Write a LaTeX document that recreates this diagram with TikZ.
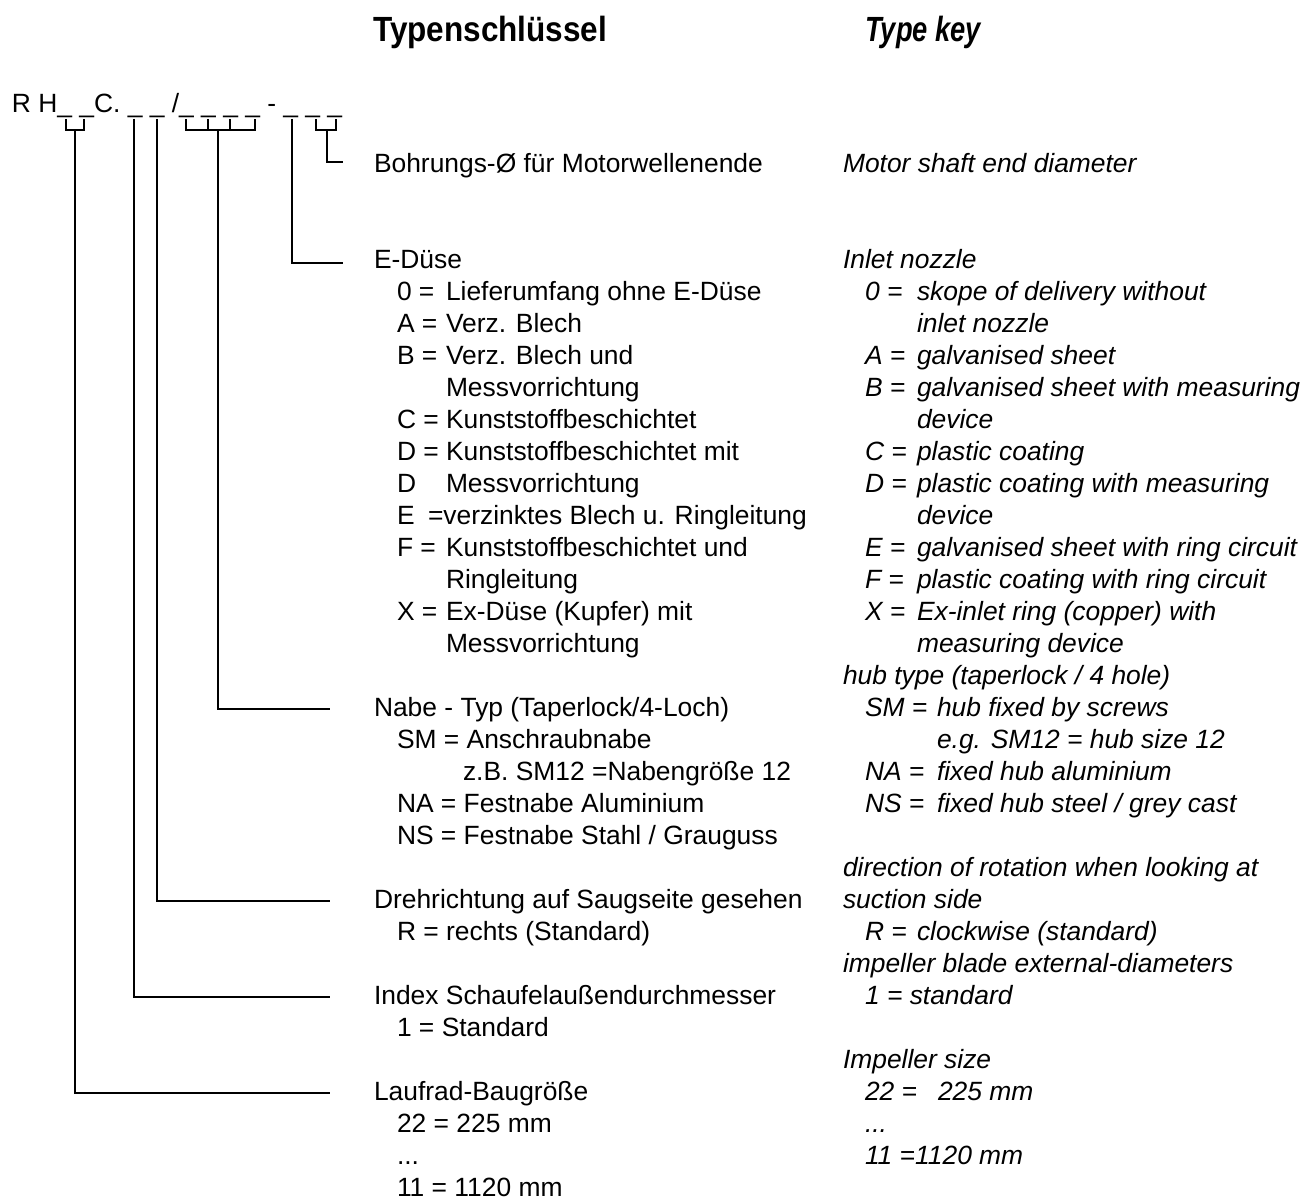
\documentclass[tikz,border=0pt]{standalone}
\usepackage{fontspec}
\setmainfont{Liberation Sans}
\newfontfamily\titlefnt[FakeStretch=0.9]{Liberation Sans}
\newfontfamily\titlefntit[FakeStretch=0.78]{Liberation Sans}
\newcommand\mybody{\fontsize{26.4}{32}\selectfont}
\begin{document}
\begin{tikzpicture}[x=1pt,y=-1pt,
  txt/.style={anchor=base west, inner sep=0pt, outer sep=0pt, font=\mybody},
  etxt/.style={txt, font=\mybody\itshape},
  ttl/.style={anchor=base west, inner sep=0pt, font=\titlefnt\fontsize{35}{38}\selectfont\bfseries},
  conn/.style={line width=1.3pt, black}]
\useasboundingbox (0,0) rectangle (1305,1201);
% titles
\node[ttl] (tde) at (373,42) {Typenschlüssel};
\node[ttl, font=\titlefntit\fontsize{35}{38}\selectfont\bfseries\itshape] (ten) at (865,42) {Type key};
% type code
\node[txt] (code) at (12,113) {R H\_ \_C. \_ \_ /\_ \_ \_ \_ - \_ \_ \_};
% German column
\node[txt] (g1) at (374,172) {Bohrungs-Ø für Motorwellenende};
\node[txt] (g2) at (374,268) {E-Düse};
\node[txt] (g3a) at (397,300) {0 =};  \node[txt] (g3b) at (446,300) {Lieferumfang ohne E-Düse};
\node[txt] (g4a) at (397,332) {A =};  \node[txt] (g4b) at (446,332) {Verz. Blech};
\node[txt] (g5a) at (397,364) {B =};  \node[txt] (g5b) at (446,364) {Verz. Blech und};
\node[txt] (g6) at (446,396) {Messvorrichtung};
\node[txt] (g7a) at (397,428) {C =};  \node[txt] (g7b) at (446,428) {Kunststoffbeschichtet};
\node[txt] (g8a) at (397,460) {D =};  \node[txt] (g8b) at (446,460) {Kunststoffbeschichtet mit};
\node[txt] (g9a) at (397,492) {D};    \node[txt] (g9b) at (446,492) {Messvorrichtung};
\node[txt] (g10a) at (397,524) {E};   \node[txt] (g10b) at (428,524) {=verzinktes Blech u. Ringleitung};
\node[txt] (g11a) at (397,556) {F =}; \node[txt] (g11b) at (446,556) {Kunststoffbeschichtet und};
\node[txt] (g12) at (446,588) {Ringleitung};
\node[txt] (g13a) at (397,620) {X =}; \node[txt] (g13b) at (446,620) {Ex-Düse (Kupfer) mit};
\node[txt] (g14) at (446,652) {Messvorrichtung};
\node[txt] (g15) at (374,716) {Nabe - Typ (Taperlock/4-Loch)};
\node[txt] (g16) at (397,748) {SM = Anschraubnabe};
\node[txt] (g17) at (463,780) {z.B. SM12 =Nabengröße 12};
\node[txt] (g18) at (397,812) {NA = Festnabe Aluminium};
\node[txt] (g19) at (397,844) {NS = Festnabe Stahl / Grauguss};
\node[txt] (g20) at (374,908) {Drehrichtung auf Saugseite gesehen};
\node[txt] (g21) at (397,940) {R = rechts (Standard)};
\node[txt] (g22) at (374,1004) {Index Schaufelaußendurchmesser};
\node[txt] (g23) at (397,1036) {1 = Standard};
\node[txt] (g24) at (374,1100) {Laufrad-Baugröße};
\node[txt] (g25) at (397,1132) {22 = 225 mm};
\node[txt] (g26) at (397,1164) {...};
\node[txt] (g27) at (397,1196) {11 = 1120 mm};
% English column
\node[etxt] (e1) at (843,172) {Motor shaft end diameter};
\node[etxt] (e2) at (843,268) {Inlet nozzle};
\node[etxt] (e3a) at (865,300) {0 =};  \node[etxt] (e3b) at (917,300) {skope of delivery without};
\node[etxt] (e4) at (917,332) {inlet nozzle};
\node[etxt] (e5a) at (865,364) {A =};  \node[etxt] (e5b) at (917,364) {galvanised sheet};
\node[etxt] (e6a) at (865,396) {B =};  \node[etxt] (e6b) at (917,396) {galvanised sheet with measuring};
\node[etxt] (e7) at (917,428) {device};
\node[etxt] (e8a) at (865,460) {C =};  \node[etxt] (e8b) at (917,460) {plastic coating};
\node[etxt] (e9a) at (865,492) {D =};  \node[etxt] (e9b) at (917,492) {plastic coating with measuring};
\node[etxt] (e10) at (917,524) {device};
\node[etxt] (e11a) at (865,556) {E =}; \node[etxt] (e11b) at (917,556) {galvanised sheet with ring circuit};
\node[etxt] (e12a) at (865,588) {F =}; \node[etxt] (e12b) at (917,588) {plastic coating with ring circuit};
\node[etxt] (e13a) at (865,620) {X =}; \node[etxt] (e13b) at (917,620) {Ex-inlet ring (copper) with};
\node[etxt] (e14) at (917,652) {measuring device};
\node[etxt] (e15) at (843,684) {hub type (taperlock / 4 hole)};
\node[etxt] (e16a) at (865,716) {SM =}; \node[etxt] (e16b) at (937,716) {hub fixed by screws};
\node[etxt] (e17) at (937,748) {e.g. SM12 = hub size 12};
\node[etxt] (e18a) at (865,780) {NA =}; \node[etxt] (e18b) at (937,780) {fixed hub aluminium};
\node[etxt] (e19a) at (865,812) {NS =}; \node[etxt] (e19b) at (937,812) {fixed hub steel / grey cast};
\node[etxt] (e20) at (843,876) {direction of rotation when looking at};
\node[etxt] (e21) at (843,908) {suction side};
\node[etxt] (e22a) at (865,940) {R =}; \node[etxt] (e22b) at (917,940) {clockwise (standard)};
\node[etxt] (e23) at (843,972) {impeller blade external-diameters};
\node[etxt] (e24) at (865,1004) {1 = standard};
\node[etxt] (e25) at (843,1068) {Impeller size};
\node[etxt] (e26a) at (865,1100) {22 =}; \node[etxt] (e26b) at (938,1100) {225 mm};
\node[etxt] (e27) at (865,1132) {...};
\node[etxt] (e28) at (865,1164) {11 =1120 mm};
% connector coordinates
\coordinate (a1) at (66,119);  \coordinate (a2) at (84,119);  \coordinate (as) at (75,130);
\coordinate (aend) at (330,1093);
\coordinate (c3) at (134,119); \coordinate (c3end) at (330,997);
\coordinate (c4) at (157,119); \coordinate (c4end) at (330,901);
\coordinate (b1) at (186,119); \coordinate (b2) at (208,119); \coordinate (b3) at (230,119); \coordinate (b4) at (255,119);
\coordinate (bs) at (218,130); \coordinate (bend) at (330,709);
\coordinate (c9) at (292,119); \coordinate (c9end) at (343,263);
\coordinate (d1) at (316,119); \coordinate (d2) at (336,119); \coordinate (ds) at (327,130);
\coordinate (dend) at (343,162);
% connectors
\draw[conn] (a1) |- (as) -| (a2);
\draw[conn] (as) |- (aend);
\draw[conn] (c3) |- (c3end);
\draw[conn] (c4) |- (c4end);
\draw[conn] (b1) |- (bs) -| (b4);
\draw[conn] (b2) -- (b2 |- bs);
\draw[conn] (b3) -- (b3 |- bs);
\draw[conn] (bs) |- (bend);
\draw[conn] (c9) |- (c9end);
\draw[conn] (d1) |- (ds) -| (d2);
\draw[conn] (ds) |- (dend);
\end{tikzpicture}
\end{document}
